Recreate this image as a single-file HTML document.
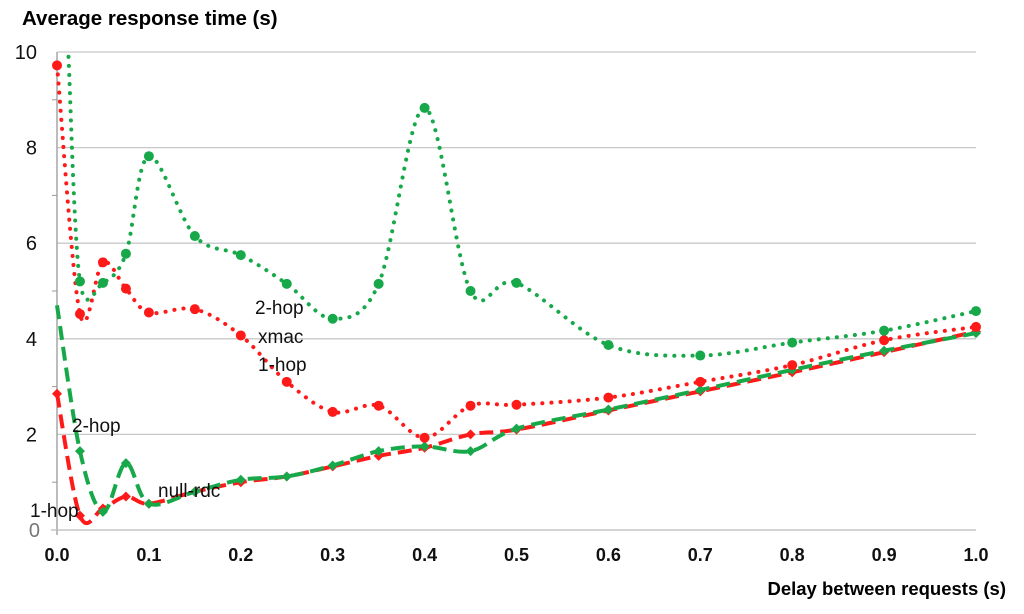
<!DOCTYPE html>
<html><head><meta charset="utf-8"><style>
body{margin:0;background:#fff;font-family:"Liberation Sans",Arial,sans-serif}
svg text{font-family:"Liberation Sans",Arial,sans-serif}
</style></head><body>
<svg id="chart" width="1024" height="609" viewBox="0 0 1024 609" xmlns="http://www.w3.org/2000/svg">
<g id="grid"></g>
<g id="axes"></g>
<g id="series"></g>
<text x="22" y="25" font-size="20.5" font-weight="bold">Average response time (s)</text>
<text x="1006" y="595" font-size="18.5" font-weight="bold" text-anchor="end">Delay between requests (s)</text>
<g font-size="19" fill="#111">
<text x="255" y="314">2-hop</text>
<text x="258" y="343">xmac</text>
<text x="258" y="371">1-hop</text>
<text x="72" y="432">2-hop</text>
<text x="158" y="497">null-rdc</text>
<text x="30" y="517">1-hop</text>
</g>
</svg>
<script>
const xTicks=[0,0.1,0.2,0.3,0.4,0.5,0.6,0.7,0.8,0.9,1.0];
const xTickLabels=["0.0","0.1","0.2","0.3","0.4","0.5","0.6","0.7","0.8","0.9","1.0"];
const yTicks=[0,2,4,6,8,10];
const yTickLabels=["0","2","4","6","8","10"];
const xmac2X=[0.0125,0.025,0.05,0.075,0.1,0.15,0.2,0.25,0.3,0.35,0.4,0.45,0.5,0.6,0.7,0.8,0.9,1.0];
const xmac2Y=[9.9,5.2,5.17,5.78,7.82,6.15,5.75,5.15,4.42,5.15,8.83,5.0,5.17,3.87,3.65,3.92,4.17,4.58];
const xmac1X=[0,0.025,0.05,0.075,0.1,0.15,0.2,0.25,0.3,0.35,0.4,0.45,0.5,0.6,0.7,0.8,0.9,1.0];
const xmac1Y=[9.72,4.52,5.6,5.05,4.55,4.62,4.07,3.1,2.47,2.6,1.93,2.6,2.62,2.77,3.1,3.45,3.97,4.25];
const null2X=[0,0.025,0.05,0.075,0.1,0.15,0.2,0.25,0.3,0.35,0.4,0.45,0.5,0.6,0.7,0.8,0.9,1.0];
const null2Y=[4.7,1.65,0.38,1.4,0.55,0.8,1.05,1.12,1.35,1.65,1.75,1.65,2.12,2.52,2.93,3.35,3.75,4.12];
const null1X=[0,0.025,0.05,0.075,0.1,0.15,0.2,0.25,0.3,0.35,0.4,0.45,0.5,0.6,0.7,0.8,0.9,1.0];
const null1Y=[2.85,0.3,0.45,0.7,0.55,0.8,1.0,1.12,1.33,1.55,1.72,2.0,2.1,2.5,2.9,3.3,3.72,4.15];

const X0=57,X1=976,Y0=530,Y10=52;
const sx=v=>X0+(X1-X0)*v;
const sy=v=>Y0-(Y0-Y10)*v/10;
const NS="http://www.w3.org/2000/svg";
function mk(tag,attrs,parent){const e=document.createElementNS(NS,tag);for(const k in attrs)e.setAttribute(k,attrs[k]);parent.appendChild(e);return e;}
const grid=document.getElementById('grid'),axes=document.getElementById('axes'),ser=document.getElementById('series');
yTicks.forEach((t,i)=>{
  if(t>0){const l=mk('line',{x1:X0,x2:X1,y1:sy(t),y2:sy(t),stroke:'#c8c8c8','stroke-width':1.3},grid);
  
  }
  const tx=mk('text',{x:t===0?40:37,y:sy(t)+7,'font-size':20,'text-anchor':'end',fill:t===0?'#777':'#111'},axes);
  tx.textContent=yTickLabels[i];
  
  
});
for(let v=1;v<10;v+=2){const l=mk('line',{x1:X0-5,x2:X0,y1:sy(v),y2:sy(v),stroke:'#999'},axes);

}
const ya=mk('line',{x1:X0,x2:X0,y1:Y10,y2:Y0+5,stroke:'#999','stroke-width':1.3},axes);


const xa=mk('line',{x1:X0-6,x2:X1,y1:Y0,y2:Y0,stroke:'#bbb','stroke-width':1.3},axes);


xTicks.forEach((t,i)=>{
  const tx=mk('text',{x:sx(t),y:561,'font-size':18,'font-weight':'bold','text-anchor':'middle',fill:'#111'},axes);
  tx.textContent=xTickLabels[i];
  
  
});
function smooth(xs,ys){
  const p=xs.map((x,i)=>[sx(x),sy(ys[i])]);
  let d=`M${p[0][0]},${p[0][1]}`;
  for(let i=0;i<p.length-1;i++){
    const a=p[i-1]||p[i],b=p[i],c=p[i+1],e=p[i+2]||c;
    const c1=[b[0]+(c[0]-a[0])/6,b[1]+(c[1]-a[1])/6],c2=[c[0]-(e[0]-b[0])/6,c[1]-(e[1]-b[1])/6];
    d+=` C${c1[0]},${c1[1]} ${c2[0]},${c2[1]} ${c[0]},${c[1]}`;
  }
  return d;
}
function series(xs,ys,color,dash,marker,name,skipFirst){
  const g=mk('g',{},ser);
  
  
  mk('path',{d:smooth(xs,ys),fill:'none',stroke:color,'stroke-width':4,'stroke-dasharray':dash==='dot'?'0.1 9':'14 7','stroke-linecap':dash==='dot'?'round':'butt'},g);
  xs.forEach((x,i)=>{
    if(skipFirst&&i===0)return;
    let m;
    if(marker==='circle')m=mk('circle',{cx:sx(x),cy:sy(ys[i]),r:5,fill:color},g);
    else{const cx=sx(x),cy=sy(ys[i]);m=mk('polygon',{points:`${cx},${cy-5} ${cx+5},${cy} ${cx},${cy+5} ${cx-5},${cy}`,fill:color},g);}
    
    
  });
}
series(null1X,null1Y,'#ff1a1a','dash','diamond','null-rdc-1hop',false);
series(null2X,null2Y,'#17a84a','dash','diamond','null-rdc-2hop',true);
series(xmac1X,xmac1Y,'#ff1a1a','dot','circle','xmac-1hop',false);
series(xmac2X,xmac2Y,'#17a84a','dot','circle','xmac-2hop',true);
</script>
</body></html>
